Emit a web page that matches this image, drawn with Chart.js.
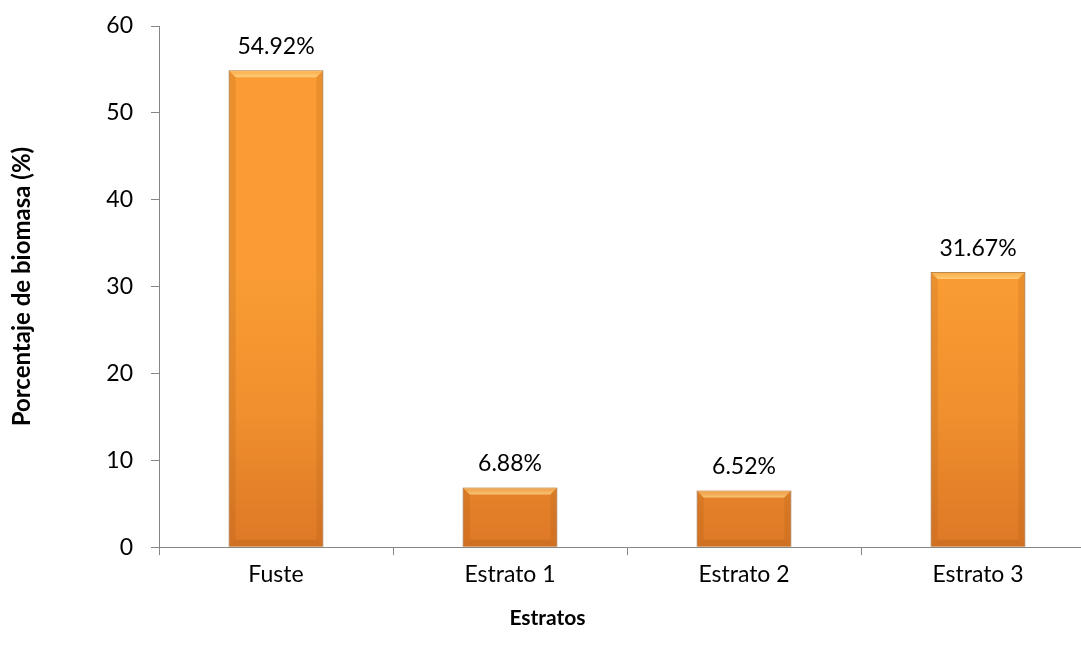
<!DOCTYPE html>
<html>
<head>
<meta charset="utf-8">
<script src="https://cdn.jsdelivr.net/npm/chart.js@4.4.1/dist/chart.umd.min.js"></script>
<style>
  html, body { margin: 0; padding: 0; background: #fff; overflow: hidden; }
  #wrap { width: 1100px; height: 648px; }
</style>
</head>
<body>
<div id="wrap"><canvas id="barChart"></canvas></div>
<script>
// Porcentaje de biomasa por estrato
const categories = ['Fuste', 'Estrato 1', 'Estrato 2', 'Estrato 3'];
const biomasa = [54.92, 6.88, 6.52, 31.67];
const yTicks = [0, 10, 20, 30, 40, 50, 60];

const FONT = 'Lato, "Open Sans", sans-serif';
const AXIS_GREY = '#868686';

// per-bar vertical gradient, lighter at top, darker at bottom
const barShading = {
    id: 'barShading',
    beforeDatasetsDraw(chart) {
        const ctx = chart.ctx;
        chart.getDatasetMeta(0).data.forEach(bar => {
            const g = ctx.createLinearGradient(0, bar.y, 0, bar.base);
            g.addColorStop(0, '#FA9C33');
            g.addColorStop(0.5, '#F0902E');
            g.addColorStop(1, '#DE7826');
            bar.options.backgroundColor = g;
        });
    },
    afterDatasetsDraw(chart) {
        const ctx = chart.ctx;
        chart.getDatasetMeta(0).data.forEach(bar => {
            const half = bar.width / 2;
            const l = bar.x - half, r = bar.x + half, t = bar.y, b = bar.base;
            const bev = 7;
            ctx.save();
            // top bevel highlight
            ctx.beginPath();
            ctx.moveTo(l, t); ctx.lineTo(r, t); ctx.lineTo(r - bev, t + bev); ctx.lineTo(l + bev, t + bev);
            ctx.closePath();
            const hg = ctx.createLinearGradient(0, t, 0, t + bev);
            hg.addColorStop(0, 'rgba(255,200,110,0.35)');
            hg.addColorStop(1, 'rgba(255,225,150,0.7)');
            ctx.fillStyle = hg;
            ctx.fill();
            // darker side bevels
            ctx.fillStyle = 'rgba(150,80,20,0.16)';
            ctx.beginPath();
            ctx.moveTo(l, t); ctx.lineTo(l + bev, t + bev); ctx.lineTo(l + bev, b - bev); ctx.lineTo(l, b);
            ctx.closePath(); ctx.fill();
            ctx.beginPath();
            ctx.moveTo(r, t); ctx.lineTo(r - bev, t + bev); ctx.lineTo(r - bev, b - bev); ctx.lineTo(r, b);
            ctx.closePath(); ctx.fill();
            // bottom bevel
            ctx.fillStyle = 'rgba(150,80,20,0.22)';
            ctx.beginPath();
            ctx.moveTo(l, b); ctx.lineTo(l + bev, b - bev); ctx.lineTo(r - bev, b - bev); ctx.lineTo(r, b);
            ctx.closePath(); ctx.fill();
            ctx.restore();
        });
    }
};

// value labels above the bars
const valueLabels = {
    id: 'valueLabels',
    afterDatasetsDraw(chart) {
        const ctx = chart.ctx;
        ctx.save();
        ctx.font = '23px ' + FONT;
        ctx.fillStyle = '#000';
        ctx.textAlign = 'center';
        ctx.textBaseline = 'middle';
        chart.getDatasetMeta(0).data.forEach((bar, i) => {
            ctx.fillText(biomasa[i].toFixed(2) + '%', bar.x, bar.y - 24);
        });
        ctx.restore();
    }
};

const data = {
    labels: categories,
    datasets: [{
        label: 'Biomasa',
        data: biomasa,
        backgroundColor: '#F0902E',
        borderColor: 'rgba(130,70,20,0.85)',
        borderWidth: 1,
        barPercentage: 0.405,
        categoryPercentage: 1
    }]
};

const config = {
    type: 'bar',
    data: data,
    options: {
        responsive: true,
        maintainAspectRatio: false,
        animation: false,
        layout: { padding: { top: 26, right: 5, left: 0, bottom: 0 } },
        plugins: {
            legend: { display: false },
            tooltip: { enabled: false },
            title: {
                display: true,
                position: 'bottom',
                text: 'Estratos',
                color: '#000',
                font: { family: FONT, size: 21, weight: 'bold' },
                padding: { top: 11, bottom: 17 }
            }
        },
        scales: {
            x: {
                grid: { drawOnChartArea: false, tickLength: 8, color: AXIS_GREY, offset: true },
                border: { color: AXIS_GREY },
                ticks: { color: '#000', font: { family: FONT, size: 23 }, padding: 6 }
            },
            y: {
                min: 0,
                max: 60,
                afterBuildTicks(axis) { axis.ticks = yTicks.map(v => ({ value: v })); },
                afterFit(axis) {
                    axis.width = 159;
                    axis.paddingTop = 0;
                    axis.paddingBottom = 0;
                },
                grid: { drawOnChartArea: false, tickLength: 8, color: AXIS_GREY },
                border: { color: AXIS_GREY },
                ticks: { color: '#000', font: { family: FONT, size: 23 }, padding: 18 },
                title: {
                    display: true,
                    text: 'Porcentaje de biomasa (%)',
                    color: '#000',
                    font: { family: FONT, size: 24, weight: 'bold' },
                    padding: { top: 8, bottom: 0 }
                }
            }
        }
    },
    plugins: [barShading, valueLabels]
};

const myBarChart = new Chart(document.getElementById('barChart'), config);
</script>
</body>
</html>
